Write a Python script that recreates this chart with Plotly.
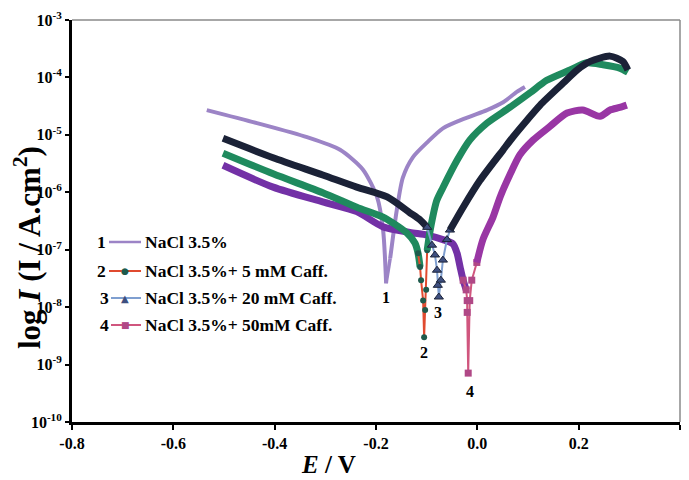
import plotly.graph_objects as go

# ---------------- data ----------------
x_tick_vals = [-0.8, -0.6, -0.4, -0.2, 0.0, 0.2, 0.4]
x_tick_text = ["-0.8", "-0.6", "-0.4", "-0.2", "0.0", "0.2", "0.4"]
y_tick_vals = [1e-10, 1e-9, 1e-8, 1e-7, 1e-6, 1e-5, 1e-4, 1e-3]
y_tick_text = ["10<sup>-10</sup>", "10<sup>-9</sup>", "10<sup>-8</sup>", "10<sup>-7</sup>",
               "10<sup>-6</sup>", "10<sup>-5</sup>", "10<sup>-4</sup>", "10<sup>-3</sup>"]

series_names = ["NaCl 3.5%", "NaCl 3.5%+ 5 mM Caff.", "NaCl 3.5%+ 20 mM Caff.", "NaCl 3.5%+ 50mM Caff."]
series_nums = ["1", "2", "3", "4"]

# 1: NaCl 3.5 %
E1 = [-0.534, -0.435, -0.336, -0.271, -0.226, -0.198, -0.186, -0.180,
      -0.172, -0.159, -0.147, -0.127, -0.099, -0.068, -0.020, 0.019, 0.051, 0.078, 0.094]
I1 = [2.7e-5, 1.6e-5, 9.1e-6, 5.5e-6, 2.5e-6, 8.3e-7, 2.2e-7, 2.6e-8,
      7.1e-8, 4.9e-7, 1.8e-6, 4.1e-6, 7.4e-6, 1.3e-5, 2.0e-5, 2.7e-5, 3.7e-5, 5.6e-5, 6.8e-5]

# 2: + 5 mM caffeine
E2 = [-0.502, -0.403, -0.305, -0.238, -0.186, -0.166, -0.139, -0.123, -0.117, -0.113,
      -0.111, -0.107, -0.105, -0.103, -0.101, -0.099, -0.093, -0.080, -0.068, -0.040,
      -0.015, 0.019, 0.064, 0.104, 0.137, 0.183, 0.216, 0.248, 0.281, 0.297]
I2 = [4.8e-6, 2.1e-6, 9.8e-7, 5.5e-7, 3.7e-7, 2.9e-7, 1.95e-7, 1.3e-7, 8.7e-8, 5.0e-8,
      2.95e-8, 1.3e-8, 3.0e-9, 8.9e-9, 2.0e-8, 9.8e-8, 2.2e-7, 7.2e-7, 1.2e-6, 3.6e-6,
      8.1e-6, 1.6e-5, 3.0e-5, 5.4e-5, 8.9e-5, 1.35e-4, 1.8e-4, 1.66e-4, 1.45e-4, 1.23e-4]

# 3: + 20 mM caffeine
E3 = [-0.502, -0.403, -0.305, -0.238, -0.178, -0.133, -0.113, -0.099, -0.0895, -0.0836,
      -0.0796, -0.078, -0.076, -0.072, -0.068, -0.060, -0.054, -0.028, 0.005, 0.051,
      0.070, 0.098, 0.124, 0.169, 0.197, 0.223, 0.262, 0.287, 0.297]
I3 = [8.7e-6, 4.0e-6, 2.0e-6, 1.23e-6, 8.3e-7, 4.4e-7, 3.3e-7, 2.45e-7, 1.2e-7, 8.1e-8,
      4.4e-8, 2.4e-8, 1.5e-8, 2.95e-8, 6.6e-8, 1.5e-7, 2.2e-7, 5.5e-7, 1.6e-6, 5.5e-6,
      9.1e-6, 1.8e-5, 3.3e-5, 7.9e-5, 1.35e-4, 1.9e-4, 2.35e-4, 1.9e-4, 1.35e-4]

# 4: + 50 mM caffeine
E4 = [-0.502, -0.403, -0.305, -0.238, -0.186, -0.133, -0.099, -0.068, -0.048, -0.040,
      -0.034, -0.028, -0.022, -0.020, -0.020, -0.018, -0.015, -0.011, -0.001, 0.011,
      0.031, 0.045, 0.064, 0.084, 0.110, 0.143, 0.177, 0.208, 0.242, 0.262, 0.281, 0.295]
I4 = [2.95e-6, 1.23e-6, 6.8e-7, 4.6e-7, 2.5e-7, 2.0e-7, 1.8e-7, 1.5e-7, 1.26e-7, 8.7e-8,
      5.0e-8, 2.95e-8, 2.0e-8, 1.3e-8, 8.1e-9, 7.1e-10, 1.3e-8, 2.95e-8, 6.0e-8, 1.5e-7,
      3.7e-7, 8.3e-7, 2.0e-6, 4.5e-6, 8.1e-6, 1.4e-5, 2.4e-5, 2.7e-5, 2.1e-5, 2.7e-5, 3.0e-5, 3.3e-5]

# ---------------- layout geometry ----------------
W, H = 689, 480
L, R, T, B = 72, 9, 20, 58
PW, PH = W - L - R, H - T - B


def px(x):
    return (x - L) / PW


def py(y):
    return 1 - (y - T) / PH


FONT = "Liberation Serif"

C1 = "#9c84c6"
C2_thick, C2_line, C2_mark = "#1f8a5e", "#e04a2f", "#1e5a4c"
C3_thick, C3_line, C3_mark = "#1b2237", "#7f9fd0", "#3e4f80"
C4_cath, C4_anod, C4_line, C4_mark = "#7331a6", "#9936a4", "#d0567e", "#b04886"

fig = go.Figure()


def add(E, I, i0, i1, color, width, shape="spline", marker=None):
    kw = dict(x=E[i0:i1 + 1], y=I[i0:i1 + 1], mode="lines", showlegend=False,
              line=dict(color=color, width=width, shape=shape, smoothing=0.7 if shape == "spline" else None),
              hoverinfo="skip")
    if marker is not None:
        kw["mode"] = "lines+markers"
        kw["marker"] = marker
    fig.add_trace(go.Scatter(**kw))


# series 1
add(E1, I1, 0, 7, C1, 4)
add(E1, I1, 7, 8, C1, 3.5, shape="linear")
add(E1, I1, 8, len(E1) - 1, C1, 4)

# series 4
add(E4, I4, 0, 12, C4_cath, 7)
add(E4, I4, 11, 18, C4_line, 2, shape="linear",
    marker=dict(symbol="square", size=7, color=C4_mark))
add(E4, I4, 18, len(E4) - 1, C4_anod, 7)

# series 2
add(E2, I2, 0, 9, C2_thick, 7)
add(E2, I2, 8, 15, C2_line, 2, shape="linear",
    marker=dict(symbol="circle", size=6, color=C2_mark))
add(E2, I2, 15, len(E2) - 1, C2_thick, 7)

# series 3
add(E3, I3, 0, 7, C3_thick, 7)
add(E3, I3, 7, 16, C3_line, 2, shape="linear",
    marker=dict(symbol="triangle-up", size=8, color=C3_mark, line=dict(color="#1b2237", width=1)))
add(E3, I3, 16, len(E3) - 1, C3_thick, 7)

# ---------------- annotations ----------------
ann = []


def note(text, x, y, size, family=FONT, color="black", bold=True, xanchor="center", angle=0):
    f = dict(family=family, size=size, color=color)
    if bold:
        f["weight"] = "bold"
    ann.append(dict(text=text, x=px(x), y=py(y), xref="paper", yref="paper", showarrow=False,
                    xanchor=xanchor, yanchor="middle", textangle=angle, font=f))


# dip labels
for t, (x, y) in zip(series_nums, [(386, 297), (424, 352), (438, 312), (470, 391)]):
    note(t, x, y, 16)

# manual legend
rows = [242, 271, 298, 325]
num_x = [101, 101, 104, 104]
line_x0 = [109, 109, 111, 111]
line_cols = [C1, C2_line, C3_line, C4_line]
glyphs = [None, ("●", C2_mark, 9), ("▲", C3_mark, 10), ("■", C4_mark, 9)]
shapes = []
for k in range(4):
    note(series_nums[k], num_x[k], rows[k], 17.5)
    shapes.append(dict(type="line", xref="paper", yref="paper", x0=px(line_x0[k]), x1=px(141),
                       y0=py(rows[k]), y1=py(rows[k]),
                       line=dict(color=line_cols[k], width=2.5 if k == 0 else 2)))
    if glyphs[k]:
        g, c, s = glyphs[k]
        note(g, 125, rows[k], s, family="DejaVu Sans", color=c, bold=False)
    note(series_names[k], 143, rows[k], 17.5, xanchor="left")

# axis titles
note("<i>E</i> / V", 328, 465, 25)
note("log <i>I</i> (I / A.cm<sup>2</sup>)", 27, 248, 31, angle=-90)

# top/right frame
shapes.append(dict(type="line", xref="paper", yref="paper", x0=0, x1=1, y0=1, y1=1,
                   line=dict(color="#8a8a8a", width=1.5)))
shapes.append(dict(type="line", xref="paper", yref="paper", x0=1, x1=1, y0=0, y1=1,
                   line=dict(color="#8a8a8a", width=1.5)))

tickfont = dict(family=FONT, size=16, color="black", weight="bold")
fig.update_layout(
    width=W, height=H, margin=dict(l=L, r=R, t=T, b=B),
    paper_bgcolor="white", plot_bgcolor="white",
    annotations=ann, shapes=shapes, showlegend=False,
    xaxis=dict(range=[-0.8, 0.4], tickvals=x_tick_vals, ticktext=x_tick_text,
               showline=True, linecolor="black", linewidth=3, ticks="outside", ticklen=5,
               tickwidth=2, tickcolor="black", showgrid=False, zeroline=False, tickfont=tickfont),
    yaxis=dict(type="log", range=[-10, -3], tickvals=y_tick_vals, ticktext=y_tick_text,
               showline=True, linecolor="black", linewidth=3, ticks="outside", ticklen=4,
               tickwidth=2, tickcolor="black", showgrid=False, zeroline=False, tickfont=tickfont),
)

fig.write_html("out.html")
